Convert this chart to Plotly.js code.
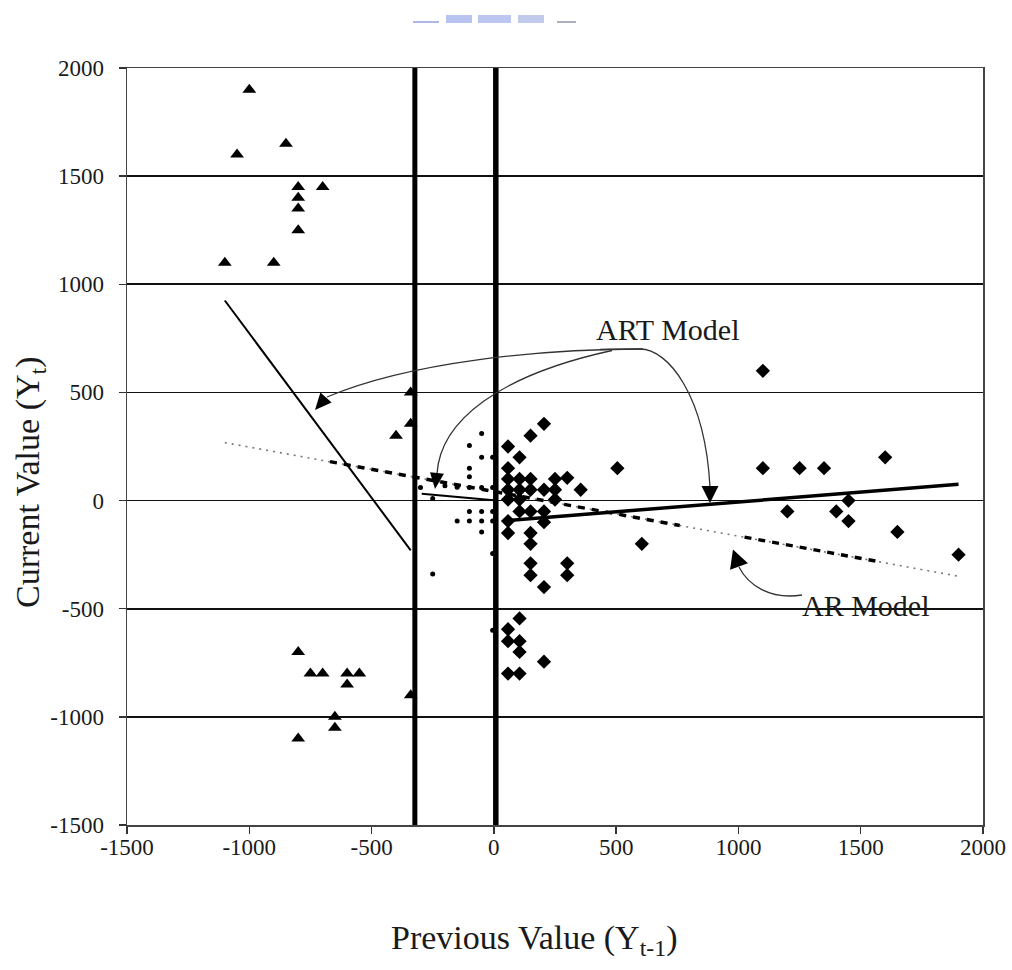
<!DOCTYPE html>
<html>
<head>
<meta charset="utf-8">
<script src="https://cdn.plot.ly/plotly-3.0.1.min.js"></script>
<style>html,body{margin:0;padding:0;background:#fff;}#chart{width:1012px;height:970px;}</style>
</head>
<body>
<div id="chart"></div>
<script>
// ---------- data ----------
const xTicks = [-1500, -1000, -500, 0, 500, 1000, 1500, 2000];
const yTicks = [-1500, -1000, -500, 0, 500, 1000, 1500, 2000];

// regime thresholds (thick vertical lines)
const thresholds = [-323, 8];

// regime 1 (Y_t-1 below lower threshold) - triangles
const lowX = [-1000, -850, -1050, -800, -700, -800, -800, -800, -1100, -900, -400, -340, -340,
              -800, -750, -700, -600, -550, -600, -340, -650, -650, -800];
const lowY = [1900, 1650, 1600, 1450, 1450, 1400, 1350, 1250, 1100, 1100, 300, 500, 355,
              -700, -800, -800, -800, -800, -850, -900, -1000, -1050, -1100];

// regime 2 (between thresholds) - small dots
const midX = [-50, -100, -50, -5, -100, -100, -300, -200, -150, -100, -50, -5, -250,
              -100, -50, -5, -150, -100, -50, -5, -50, -5, -250, -5];
const midY = [310, 255, 200, 200, 150, 110, 60, 68, 62, 60, 60, 60, 10,
              -50, -50, -50, -95, -95, -95, -95, -145, -245, -340, -600];

// regime 3 (above upper threshold) - diamonds
const highX = [58, 58, 58, 58, 58, 58, 58,
               105, 105, 105, 105, 105,
               150, 150, 150, 150, 150, 150, 150, 150,
               205, 205, 205, 205, 205,
               250, 250, 250,
               300, 300, 300,
               355, 505, 605,
               1100, 1100, 1250, 1350, 1600, 1450, 1200, 1400, 1450, 1650, 1900,
               105, 58, 58, 105, 105, 205, 58, 105];
const highY = [250, 150, 100, 50, 5, -95, -150,
               200, 100, 50, 5, -50,
               300, 100, 50, -50, -150, -200, -290, -345,
               355, 50, -50, -100, -400,
               100, 50, 5,
               105, -290, -345,
               50, 150, -200,
               600, 150, 150, 150, 200, 0, -50, -50, -95, -145, -250,
               -545, -595, -650, -650, -700, -745, -800, -800];

// ART model regime lines
const artLeftX = [-1100, -340], artLeftY = [925, -230];
const artMidX = [-295, 0], artMidY = [32, 2];
const artRightX = [55, 1900], artRightY = [-92, 75];

// AR model line: points (thick dashed between 1-2 and 3-4)
const arX = [-1100, -670, 760, 1025, 1560, 1900];
const arY = [268, 180, -115, -169, -279, -350];

// ---------- helpers for annotation geometry (pixel -> data) ----------
const L = 127, R = 983, T = 68, B = 825;
function dx(px) { return (px - L) / (R - L) * 3500 - 1500; }
function dy(py) { return (B - py) / (B - T) * 3500 - 1500; }
function P(px, py) { return dx(px).toFixed(2) + ',' + dy(py).toFixed(2); }
function curve(pts) {
  return 'M ' + P(pts[0][0], pts[0][1]) + ' C ' + P(pts[1][0], pts[1][1]) + ' ' +
         P(pts[2][0], pts[2][1]) + ' ' + P(pts[3][0], pts[3][1]);
}
function head(tip, base, w) {
  const ux = tip[0] - base[0], uy = tip[1] - base[1];
  const l = Math.hypot(ux, uy);
  const nx = -uy / l * w / 2, ny = ux / l * w / 2;
  return 'M ' + P(tip[0], tip[1]) + ' L ' + P(base[0] + nx, base[1] + ny) +
         ' L ' + P(base[0] - nx, base[1] - ny) + ' Z';
}

const FONT = 'Liberation Serif, Times New Roman, serif';

const traces = [
  // AR thin dotted base
  { x: [arX[0], arX[5]], y: [arY[0], arY[5]], mode: 'lines', hoverinfo: 'skip',
    line: { color: '#777', width: 1.6, dash: '2px,5px' } },
  // AR thick dashed parts
  { x: [arX[1], arX[2]], y: [arY[1], arY[2]], mode: 'lines', hoverinfo: 'skip',
    line: { color: '#000', width: 3.5, dash: '7px,7px' } },
  { x: [arX[3], arX[4]], y: [arY[3], arY[4]], mode: 'lines', hoverinfo: 'skip',
    line: { color: '#000', width: 3.5, dash: '7px,7px' } },
  // ART lines
  { x: artLeftX, y: artLeftY, mode: 'lines', line: { color: '#000', width: 2 } },
  { x: artMidX, y: artMidY, mode: 'lines', line: { color: '#000', width: 2 } },
  { x: artRightX, y: artRightY, mode: 'lines', line: { color: '#000', width: 3.5 } },
  // points
  { x: midX, y: midY, mode: 'markers', marker: { symbol: 'circle', size: 5, color: '#000' } },
  { x: lowX, y: lowY, mode: 'markers', marker: { symbol: 'triangle-up', size: 12, color: '#000' } },
  { x: highX, y: highY, mode: 'markers', marker: { symbol: 'diamond', size: 11, color: '#000' } },
  // thresholds
  { x: [thresholds[0], thresholds[0]], y: [-1500, 2000], mode: 'lines', line: { color: '#000', width: 5 } },
  { x: [thresholds[1], thresholds[1]], y: [-1500, 2000], mode: 'lines', line: { color: '#000', width: 5.5 } }
];

const curveLine = { color: '#333', width: 1.3 };
const shapes = [
  { type: 'path', xref: 'x', yref: 'y', path: curve([[643, 349], [540, 349], [410, 362], [327, 397]]), line: curveLine },
  { type: 'path', xref: 'x', yref: 'y', path: curve([[612, 350.5], [500, 375], [440, 420], [437, 474]]), line: curveLine },
  { type: 'path', xref: 'x', yref: 'y', path: 'M ' + P(600, 349.5) + ' L ' + P(640, 349) + ' C ' + P(668, 349) + ' ' + P(705, 395) + ' ' + P(710, 487), line: curveLine },
  { type: 'path', xref: 'x', yref: 'y', path: curve([[802, 595], [770, 600], [748, 585], [739, 567]]), line: curveLine },
  { type: 'path', xref: 'x', yref: 'y', path: head([315, 410], [326, 397.5], 15), fillcolor: '#000', line: { width: 0 } },
  { type: 'path', xref: 'x', yref: 'y', path: head([435, 489], [437, 473], 14), fillcolor: '#000', line: { width: 0 } },
  { type: 'path', xref: 'x', yref: 'y', path: head([710, 503], [710, 486], 17), fillcolor: '#000', line: { width: 0 } },
  { type: 'path', xref: 'x', yref: 'y', path: head([733, 549.5], [739, 566.5], 19), fillcolor: '#000', line: { width: 0 } }
];

// faint header artefact above the chart
function px2paperX(px) { return (px - L) / (R - L); }
function py2paperY(py) { return (B - py) / (B - T); }
[[413, 439, 21, 23, '#aeb8e4'], [446, 472, 15, 23, '#b8c3f2'], [478, 511, 15, 23, '#bcc6f0'],
 [518, 544, 15, 23, '#c2caee'], [557, 576, 21, 23, '#aab2c2']].forEach(b => {
  shapes.push({ type: 'rect', xref: 'paper', yref: 'paper', x0: px2paperX(b[0]), x1: px2paperX(b[1]),
    y0: py2paperY(b[3]), y1: py2paperY(b[2]), fillcolor: b[4], line: { width: 0 } });
});

const annotations = [
  { xref: 'paper', yref: 'paper', x: px2paperX(30), y: py2paperY(482), text: 'Current Value (Y<sub>t</sub>)',
    textangle: -90, showarrow: false, font: { family: FONT, size: 34, color: '#1a1a1a' }, xanchor: 'center', yanchor: 'middle' },
  { xref: 'paper', yref: 'paper', x: px2paperX(534), y: py2paperY(940), text: 'Previous Value (Y<sub>t-1</sub>)',
    showarrow: false, font: { family: FONT, size: 34, color: '#1a1a1a' }, xanchor: 'center', yanchor: 'middle' },
  { xref: 'x', yref: 'y', x: dx(667), y: dy(329), text: 'ART Model', showarrow: false,
    font: { family: FONT, size: 30, color: '#1a1a1a' }, xanchor: 'center', yanchor: 'middle' },
  { xref: 'x', yref: 'y', x: dx(866), y: dy(605), text: 'AR Model', showarrow: false,
    font: { family: FONT, size: 30, color: '#1a1a1a' }, xanchor: 'center', yanchor: 'middle' }
];

const layout = {
  width: 1012, height: 970,
  margin: { l: L, r: 1012 - R, t: T, b: 970 - B, pad: 0 },
  paper_bgcolor: '#fff', plot_bgcolor: '#fff',
  showlegend: false,
  font: { family: FONT, size: 23, color: '#1a1a1a' },
  xaxis: { range: [-1500, 2000], tickvals: xTicks, ticktext: xTicks.map(String),
    ticks: 'outside', ticklen: 7, tickwidth: 1.5, tickcolor: '#333', ticklabelstandoff: -6,
    showline: true, linecolor: '#444', linewidth: 1.5, mirror: true,
    showgrid: false, zeroline: false, tickfont: { family: FONT, size: 23, color: '#1a1a1a' } },
  yaxis: { range: [-1500, 2000], tickvals: yTicks, ticktext: yTicks.map(String),
    ticks: 'outside', ticklen: 7, tickwidth: 1.5, tickcolor: '#333', ticklabelstandoff: 10,
    showline: true, linecolor: '#444', linewidth: 1.5, mirror: true,
    showgrid: true, gridcolor: '#111', gridwidth: 1.6, zeroline: false,
    tickfont: { family: FONT, size: 23, color: '#1a1a1a' } },
  shapes: shapes,
  annotations: annotations
};

Plotly.newPlot('chart', traces, layout, { displayModeBar: false, staticPlot: true });
</script>
</body>
</html>
